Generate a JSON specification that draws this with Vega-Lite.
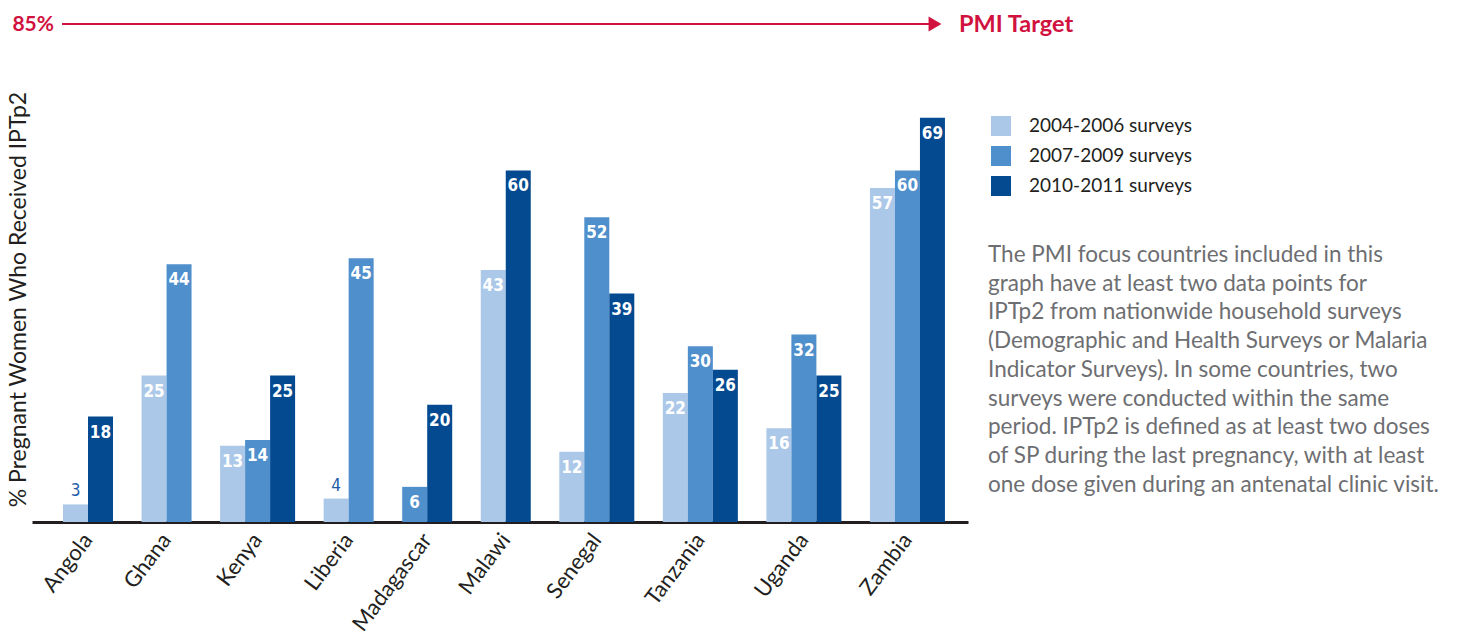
{
  "$schema": "https://vega.github.io/schema/vega-lite/v6.json",
  "width": 936,
  "height": 498,
  "autosize": {"type": "none"},
  "padding": {"left": 32, "top": 24, "right": 493, "bottom": 119},
  "background": "white",
  "config": {"font": "Lato", "view": {"stroke": null}},
  "datasets": {
    "bars": [
      {"country": "Angola", "period": "2004-2006 surveys", "value": 3},
      {"country": "Angola", "period": "2010-2011 surveys", "value": 18},
      {"country": "Ghana", "period": "2004-2006 surveys", "value": 25},
      {"country": "Ghana", "period": "2007-2009 surveys", "value": 44},
      {"country": "Kenya", "period": "2004-2006 surveys", "value": 13},
      {"country": "Kenya", "period": "2007-2009 surveys", "value": 14},
      {"country": "Kenya", "period": "2010-2011 surveys", "value": 25},
      {"country": "Liberia", "period": "2004-2006 surveys", "value": 4},
      {"country": "Liberia", "period": "2007-2009 surveys", "value": 45},
      {"country": "Madagascar", "period": "2007-2009 surveys", "value": 6},
      {"country": "Madagascar", "period": "2010-2011 surveys", "value": 20},
      {"country": "Malawi", "period": "2004-2006 surveys", "value": 43},
      {"country": "Malawi", "period": "2010-2011 surveys", "value": 60},
      {"country": "Senegal", "period": "2004-2006 surveys", "value": 12},
      {"country": "Senegal", "period": "2007-2009 surveys", "value": 52},
      {"country": "Senegal", "period": "2010-2011 surveys", "value": 39},
      {"country": "Tanzania", "period": "2004-2006 surveys", "value": 22},
      {"country": "Tanzania", "period": "2007-2009 surveys", "value": 30},
      {"country": "Tanzania", "period": "2010-2011 surveys", "value": 26},
      {"country": "Uganda", "period": "2004-2006 surveys", "value": 16},
      {"country": "Uganda", "period": "2007-2009 surveys", "value": 32},
      {"country": "Uganda", "period": "2010-2011 surveys", "value": 25},
      {"country": "Zambia", "period": "2004-2006 surveys", "value": 57},
      {"country": "Zambia", "period": "2007-2009 surveys", "value": 60},
      {"country": "Zambia", "period": "2010-2011 surveys", "value": 69}
    ],
    "target": [
      {"label": "85%", "end": "PMI Target", "value": 85}
    ],
    "note": [
      {"text": ["The PMI focus countries included in this", "graph have at least two data points for", "IPTp2 from nationwide household surveys", "(Demographic and Health Surveys or Malaria", "Indicator Surveys). In some countries, two", "surveys were conducted within the same", "period. IPTp2 is defined as at least two doses", "of SP during the last pregnancy, with at least", "one dose given during an antenatal clinic visit."]}
    ]
  },
  "layer": [
    {
      "data": {"name": "bars"},
      "transform": [
        {"window": [{"op": "row_number", "as": "bi"}], "sort": [{"field": "country"}, {"field": "period"}]},
        {"window": [{"op": "dense_rank", "as": "ci"}], "sort": [{"field": "country"}]},
        {"calculate": "(datum.bi - 1) + 0.5 + (datum.ci - 1) * 1.142", "as": "xpos"}
      ],
      "encoding": {
        "x": {
          "field": "xpos", "type": "quantitative",
          "scale": {"domain": [-1.24, 36.2], "nice": false, "zero": false, "padding": 0},
          "axis": {"title": null, "labels": false, "ticks": false, "grid": false, "domainColor": "#231f20", "domainWidth": 3}
        },
        "y": {
          "field": "value", "type": "quantitative",
          "scale": {"domain": [0, 85], "nice": false, "padding": 0},
          "axis": {"title": "% Pregnant Women Who Received IPTp2", "labels": false, "ticks": false, "domain": false, "grid": false, "titleFontSize": 23, "titleFontWeight": "normal", "titleColor": "#231f20", "titleY": 275, "titleX": -7, "titleBaseline": "alphabetic"}
        }
      },
      "layer": [
        {
          "mark": {"type": "bar", "width": 25},
          "encoding": {
            "color": {
              "field": "period", "type": "nominal",
              "scale": {"domain": ["2004-2006 surveys", "2007-2009 surveys", "2010-2011 surveys"], "range": ["#acc8e8", "#4f8fcc", "#034a91"]},
              "legend": {"title": null, "orient": "none", "legendX": 959, "legendY": 92, "symbolType": "square", "symbolSize": 400, "symbolStrokeWidth": 0, "labelFontSize": 19, "labelColor": "#231f20", "labelLimit": 0, "rowPadding": 10, "labelOffset": 18}
            }
          }
        },
        {
          "transform": [{"filter": "datum.value >= 5"}],
          "mark": {"type": "text", "baseline": "top", "dy": 8, "fontSize": 17, "fontWeight": "bold", "font": "DejaVu Sans Condensed, Roboto Condensed, Roboto", "color": "white"},
          "encoding": {"text": {"field": "value", "type": "quantitative"}}
        },
        {
          "transform": [{"filter": "datum.value < 5"}],
          "mark": {"type": "text", "baseline": "bottom", "dy": -4, "fontSize": 17, "font": "DejaVu Sans Condensed, Roboto Condensed, Roboto", "color": "#1f5ca8"},
          "encoding": {"text": {"field": "value", "type": "quantitative"}}
        }
      ]
    },
    {
      "data": {"name": "bars"},
      "transform": [
        {"window": [{"op": "row_number", "as": "bi"}], "sort": [{"field": "country"}, {"field": "period"}]},
        {"window": [{"op": "dense_rank", "as": "ci"}], "sort": [{"field": "country"}]},
        {"calculate": "(datum.bi - 1) + 0.5 + (datum.ci - 1) * 1.142", "as": "xpos"},
        {"aggregate": [{"op": "mean", "field": "xpos", "as": "xc"}], "groupby": ["country"]},
        {"calculate": "-2.4", "as": "labely"}
      ],
      "mark": {"type": "text", "angle": -53, "align": "right", "baseline": "middle", "fontSize": 22, "color": "#231f20"},
      "encoding": {
        "x": {"field": "xc", "type": "quantitative", "scale": {"domain": [-1.24, 36.2], "nice": false, "zero": false, "padding": 0}},
        "y": {"field": "labely", "type": "quantitative", "scale": {"domain": [0, 85], "nice": false, "padding": 0}},
        "text": {"field": "country"}
      }
    },
    {
      "data": {"name": "target"},
      "transform": [
        {"calculate": "-0.04", "as": "xs"},
        {"calculate": "34.88", "as": "xe"}
      ],
      "encoding": {
        "y": {"field": "value", "type": "quantitative", "scale": {"domain": [0, 85], "nice": false, "padding": 0}}
      },
      "layer": [
        {
          "mark": {"type": "rule", "color": "#d1123f", "strokeWidth": 2},
          "encoding": {
            "x": {"field": "xs", "type": "quantitative", "scale": {"domain": [-1.24, 36.2], "nice": false, "zero": false, "padding": 0}},
            "x2": {"field": "xe"}
          }
        },
        {
          "mark": {"type": "point", "shape": "triangle-right", "filled": true, "color": "#d1123f", "size": 220, "opacity": 1},
          "encoding": {
            "x": {"field": "xe", "type": "quantitative", "scale": {"domain": [-1.24, 36.2], "nice": false, "zero": false, "padding": 0}}
          }
        },
        {
          "mark": {"type": "text", "align": "right", "baseline": "middle", "dx": -8, "dy": 1, "fontSize": 21, "fontWeight": "bold", "color": "#d1123f"},
          "encoding": {
            "x": {"field": "xs", "type": "quantitative", "scale": {"domain": [-1.24, 36.2], "nice": false, "zero": false, "padding": 0}},
            "text": {"field": "label"}
          }
        },
        {
          "mark": {"type": "text", "align": "left", "baseline": "middle", "dx": 24, "dy": 1, "fontSize": 23.5, "fontWeight": "bold", "color": "#d1123f"},
          "encoding": {
            "x": {"field": "xe", "type": "quantitative", "scale": {"domain": [-1.24, 36.2], "nice": false, "zero": false, "padding": 0}},
            "text": {"field": "end"}
          }
        }
      ]
    },
    {
      "data": {"name": "note"},
      "transform": [
        {"calculate": "37.0", "as": "nx"},
        {"calculate": "44.4", "as": "ny"}
      ],
      "mark": {"type": "text", "align": "left", "baseline": "alphabetic", "fontSize": 22.5, "lineHeight": 28.75, "color": "#6d6e71"},
      "encoding": {
        "x": {"field": "nx", "type": "quantitative", "scale": {"domain": [-1.24, 36.2], "nice": false, "zero": false, "padding": 0}},
        "y": {"field": "ny", "type": "quantitative", "scale": {"domain": [0, 85], "nice": false, "padding": 0}},
        "text": {"field": "text"}
      }
    }
  ]
}
